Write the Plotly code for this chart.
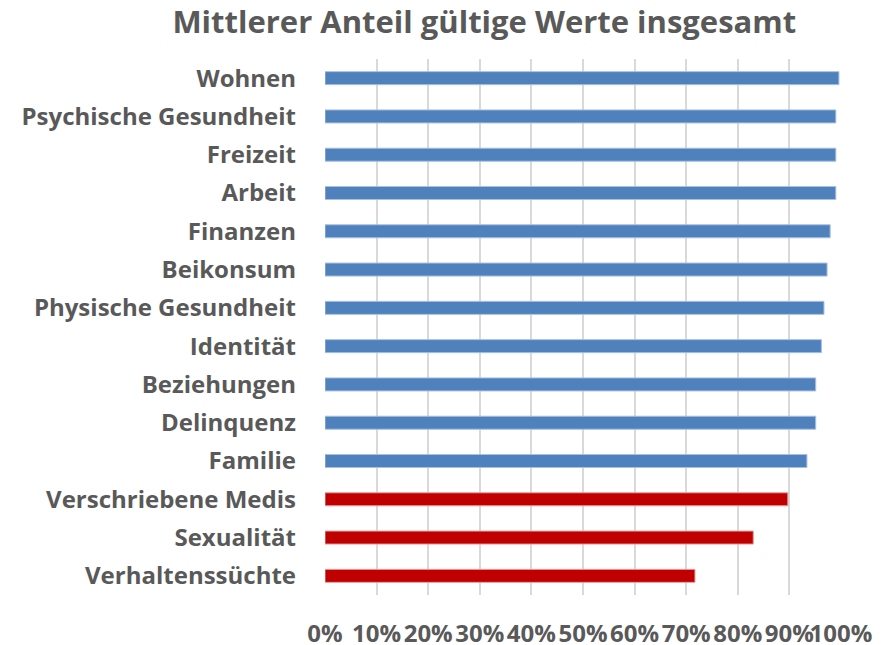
import plotly.graph_objects as go

categories = ["Wohnen", "Psychische Gesundheit", "Freizeit", "Arbeit", "Finanzen",
              "Beikonsum", "Physische Gesundheit", "Identität", "Beziehungen",
              "Delinquenz", "Familie", "Verschriebene Medis", "Sexualität",
              "Verhaltenssüchte"]
values = [0.996, 0.990, 0.990, 0.990, 0.979, 0.973, 0.967, 0.962, 0.951, 0.951,
          0.934, 0.897, 0.830, 0.717]
highlight = [False] * 11 + [True] * 3
tick_vals = [i / 10 for i in range(11)]
tick_text = [f"{i*10}%" for i in range(11)]

colors = ["#C00000" if h else "#4F81BD" for h in highlight]
line_colors = ["#E6A0A0" if h else "#A9C0E0" for h in highlight]

fig = go.Figure(go.Bar(
    x=values, y=categories, orientation="h",
    marker=dict(color=colors, line=dict(color=line_colors, width=1)),
    hoverinfo="x+y",
))

font_fam = "'Open Sans', sans-serif"
fig.update_layout(
    width=887, height=637,
    margin=dict(l=317, r=54, t=51, b=50),
    paper_bgcolor="white", plot_bgcolor="white",
    bargap=0.66,
    showlegend=False,
    title=dict(text="<b>Mittlerer Anteil gültige Werte insgesamt</b>",
               x=0.537, xanchor="center", y=0.978, yanchor="middle",
               font=dict(family=font_fam, size=31, color="#595959")),
    xaxis=dict(range=[0, 1.0], tickvals=tick_vals, ticktext=tick_text,
               tickangle=0, showgrid=True, gridcolor="#D9D9D9", gridwidth=2,
               zeroline=False, showline=False, ticklabelstandoff=22,
               automargin=False,
               tickfont=dict(family=font_fam, size=24, color="#595959", weight="bold")),
    yaxis=dict(categoryorder="array", categoryarray=categories[::-1],
               showgrid=False, zeroline=False, automargin=False,
               showline=False, ticklabelstandoff=28,
               tickfont=dict(family=font_fam, size=24, color="#595959", weight="bold")),
)

fig.write_html("out.html")
